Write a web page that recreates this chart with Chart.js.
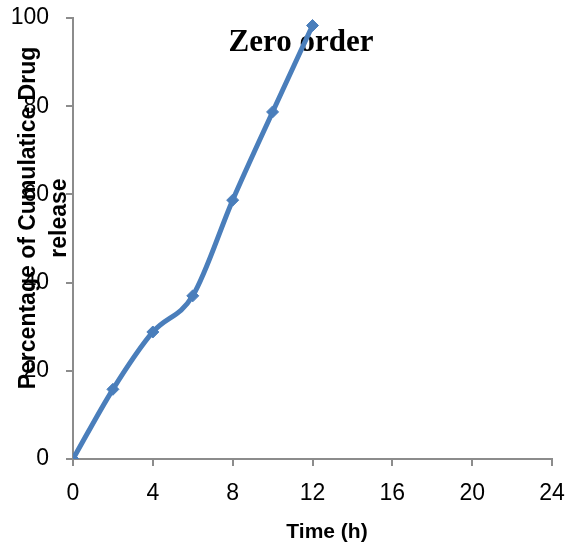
<!DOCTYPE html>
<html>
<head>
<meta charset="utf-8">
<script src="https://cdn.jsdelivr.net/npm/chart.js@4"></script>
<style>
  html, body { margin: 0; padding: 0; background: #fff; }
  #wrap { width: 566px; height: 548px; }
</style>
</head>
<body>
<div id="wrap"><canvas id="chart" width="566" height="548"></canvas></div>
<script>
// time points (h) and cumulative release (%)
const timeH = [0, 2, 4, 6, 8, 10, 12];
const releasePct = [0, 15.8, 28.8, 37, 58.7, 78.7, 98.3];
const xTicks = [0, 4, 8, 12, 16, 20, 24];
const yTicks = [0, 20, 40, 60, 80, 100];

const chartTitle = 'Zero order';
const yTitle = ['Percentage of Cumulatice Drug', 'release'];
const xTitle = 'Time (h)';

const axisGray = '#8c8c8c';
const lineBlue = '#4a7ebb';
const sans = '"Liberation Sans", Arial, sans-serif';

// titles sit over the plot / axis area like the excel original, so draw them by hand
const overlayText = {
    id: 'overlayText',
    beforeDatasetsDraw(chart) {
        const ctx = chart.ctx
        ctx.save()
        ctx.fillStyle = '#000'
        ctx.font = 'bold 31px "Liberation Serif", "Times New Roman", serif'
        ctx.textAlign = 'center'
        ctx.textBaseline = 'alphabetic'
        ctx.fillText(chartTitle, 301, 51)
        ctx.restore()
    },
    afterDraw(chart) {
        const ctx = chart.ctx
        ctx.save()
        ctx.fillStyle = '#000'
        ctx.textAlign = 'center'
        ctx.font = 'bold 21px ' + sans
        ctx.textBaseline = 'alphabetic'
        ctx.fillText(xTitle, 327, 538)

        ctx.font = 'bold 23px ' + sans
        ctx.textBaseline = 'middle'
        ctx.translate(0, 218)
        ctx.rotate(-Math.PI / 2)
        ctx.fillText(yTitle[0], 0, 29)
        ctx.fillText(yTitle[1], 0, 60)
        ctx.restore()
    }
}

new Chart(document.getElementById('chart'), {
    type: 'line',
    data: {
        datasets: [{
            label: 'Zero order',
            data: timeH.map((t, i) => ({ x: t, y: releasePct[i] })),
            borderColor: lineBlue,
            backgroundColor: lineBlue,
            borderWidth: 5,
            tension: 0.4,
            cubicInterpolationMode: 'monotone',
            pointStyle: 'rectRot',
            pointRadius: 6,
            pointBorderWidth: 1,
            fill: false
        }]
    },
    options: {
        responsive: false,
        animation: false,
        layout: { padding: { top: 18, right: 14, left: 0, bottom: 0 } },
        plugins: {
            legend: { display: false },
            tooltip: { enabled: false }
        },
        scales: {
            x: {
                type: 'linear',
                min: 0,
                max: 24,
                afterBuildTicks: (s) => { s.ticks = xTicks.map(v => ({ value: v })) },
                afterFit: (s) => {
                    s.height = 548 - 459
                    s.paddingLeft = 0
                    s.paddingRight = 0
                },
                grid: { drawOnChartArea: false, drawTicks: true, tickLength: 7, color: axisGray, lineWidth: 2 },
                border: { color: axisGray, width: 2 },
                ticks: {
                    color: '#000',
                    padding: 14,
                    maxRotation: 0,
                    font: { family: sans, size: 23 }
                }
            },
            y: {
                min: 0,
                max: 100,
                afterBuildTicks: (s) => { s.ticks = yTicks.map(v => ({ value: v })) },
                afterFit: (s) => {
                    s.width = 73
                    s.paddingTop = 0
                    s.paddingBottom = 0
                },
                grid: { drawOnChartArea: false, drawTicks: true, tickLength: 7, color: axisGray, lineWidth: 2 },
                border: { color: axisGray, width: 2 },
                ticks: {
                    color: '#000',
                    padding: 17,
                    font: { family: sans, size: 23 }
                }
            }
        }
    },
    plugins: [overlayText]
})
</script>
</body>
</html>
